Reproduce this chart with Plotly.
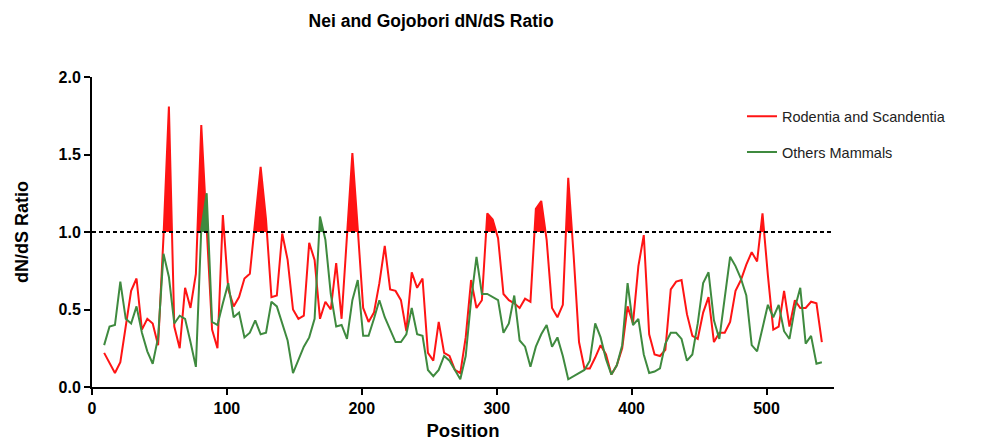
import plotly.graph_objects as go

# Sliding-window positions along the alignment
positions = list(range(9, 542, 4))

# dN/dS ratio, Rodentia and Scandentia
rodentia = [
    0.22, 0.15, 0.09, 0.16, 0.40, 0.62, 0.70, 0.37, 0.44, 0.41,
    0.27, 0.97, 1.81, 0.39, 0.25, 0.64, 0.51, 0.73, 1.69, 1.00,
    0.37, 0.25, 1.11, 0.63, 0.52, 0.58, 0.70, 0.73, 1.08, 1.42,
    1.08, 0.58, 0.59, 0.99, 0.82, 0.50, 0.44, 0.46, 0.93, 0.82,
    0.44, 0.55, 0.50, 0.80, 0.44, 1.00, 1.51, 1.02, 0.51, 0.42,
    0.48, 0.67, 0.91, 0.63, 0.62, 0.56, 0.36, 0.74, 0.64, 0.70,
    0.22, 0.17, 0.42, 0.22, 0.20, 0.11, 0.09, 0.32, 0.69, 0.51,
    0.56, 1.12, 1.08, 0.96, 0.60, 0.56, 0.54, 0.51, 0.57, 0.55,
    1.15, 1.20, 0.95, 0.51, 0.45, 0.53, 1.35, 0.85, 0.29, 0.12,
    0.12, 0.19, 0.27, 0.21, 0.08, 0.14, 0.25, 0.52, 0.41, 0.78,
    0.98, 0.34, 0.21, 0.20, 0.24, 0.63, 0.68, 0.69, 0.47, 0.33,
    0.31, 0.48, 0.58, 0.29, 0.35, 0.35, 0.42, 0.62, 0.69, 0.79,
    0.87, 0.81, 1.12, 0.72, 0.37, 0.39, 0.62, 0.39, 0.56, 0.51,
    0.51, 0.55, 0.54, 0.29,
]

# dN/dS ratio, other mammals
others = [
    0.27, 0.39, 0.40, 0.68, 0.44, 0.41, 0.52, 0.35, 0.23, 0.15,
    0.32, 0.86, 0.71, 0.41, 0.46, 0.44, 0.29, 0.13, 1.02, 1.25,
    0.42, 0.40, 0.54, 0.67, 0.45, 0.48, 0.32, 0.35, 0.43, 0.34,
    0.35, 0.55, 0.52, 0.41, 0.30, 0.09, 0.17, 0.26, 0.32, 0.44,
    1.10, 0.95, 0.60, 0.39, 0.40, 0.31, 0.56, 0.69, 0.33, 0.33,
    0.44, 0.56, 0.45, 0.37, 0.29, 0.29, 0.34, 0.51, 0.34, 0.33,
    0.11, 0.07, 0.11, 0.20, 0.17, 0.11, 0.05, 0.20, 0.56, 0.84,
    0.60, 0.60, 0.58, 0.56, 0.35, 0.41, 0.59, 0.30, 0.26, 0.13,
    0.26, 0.34, 0.40, 0.26, 0.32, 0.20, 0.05, 0.07, 0.09, 0.11,
    0.17, 0.41, 0.32, 0.18, 0.08, 0.14, 0.27, 0.67, 0.40, 0.44,
    0.21, 0.09, 0.10, 0.12, 0.28, 0.35, 0.35, 0.31, 0.17, 0.21,
    0.41, 0.67, 0.74, 0.43, 0.31, 0.57, 0.84, 0.78, 0.70, 0.59,
    0.27, 0.23, 0.38, 0.53, 0.45, 0.53, 0.36, 0.31, 0.51, 0.64,
    0.28, 0.33, 0.15, 0.16,
]

threshold = 1.0
series = [
    ("Rodentia and Scandentia", rodentia, "#FF1414"),
    ("Others Mammals", others, "#3F8A3F"),
]
FONT = "Liberation Sans, Arial, sans-serif"


def clip_above(xs, ys, level):
    """Return the curve clipped to max(y, level), with crossing points inserted."""
    fx, fy = [], []
    for i in range(len(xs)):
        if i > 0:
            y0, y1 = ys[i - 1], ys[i]
            if (y0 - level) * (y1 - level) < 0:
                t = (level - y0) / (y1 - y0)
                fx.append(xs[i - 1] + t * (xs[i] - xs[i - 1]))
                fy.append(level)
        fx.append(xs[i])
        fy.append(max(ys[i], level))
    return fx, fy


fig = go.Figure()
for name, vals, color in series:
    fx, fy = clip_above(positions, vals, threshold)
    fig.add_trace(go.Scatter(x=fx, y=[threshold] * len(fx), mode="lines",
                             line=dict(width=0), showlegend=False, hoverinfo="skip",
                             legendgroup=name))
    fig.add_trace(go.Scatter(x=fx, y=fy, mode="lines", fill="tonexty",
                             fillcolor=color, line=dict(width=0, color=color),
                             showlegend=False, hoverinfo="skip", legendgroup=name))
    fig.add_trace(go.Scatter(x=positions, y=vals, mode="lines", name=name,
                             legendgroup=name,
                             line=dict(color=color, width=2)))

fig.add_shape(type="line", xref="paper", yref="y", x0=0, x1=1,
              y0=threshold, y1=threshold, layer="above",
              line=dict(color="black", width=2, dash="4px,3px"))

fig.update_layout(
    width=994, height=441,
    margin=dict(l=92, r=160, t=77, b=54),
    paper_bgcolor="white", plot_bgcolor="white",
    font=dict(family=FONT, color="black"),
    title=dict(text="<b>Nei and Gojobori dN/dS Ratio</b>",
               font=dict(size=17.5, family=FONT, color="black"),
               x=0.457, xref="paper", xanchor="center",
               y=0.952, yref="container", yanchor="middle"),
    showlegend=True,
    legend=dict(x=0.876, y=0.925, xanchor="left", yanchor="top",
                traceorder="grouped", tracegroupgap=14,
                font=dict(size=14.5, family=FONT, color="#222222"),
                bgcolor="rgba(0,0,0,0)", itemwidth=30),
)

fig.update_xaxes(
    range=[0, 550], tickvals=[0, 100, 200, 300, 400, 500],
    showgrid=False, zeroline=False, automargin=False,
    showline=True, linecolor="black", linewidth=2,
    ticks="outside", ticklen=6, tickwidth=2, tickcolor="black",
    tickfont=dict(size=16, family=FONT, weight="bold"),
    title=dict(text="<b>Position</b>", font=dict(size=18.5, family=FONT), standoff=9),
)
fig.update_yaxes(
    range=[0, 2.0], tickvals=[0, 0.5, 1.0, 1.5, 2.0], tickformat=".1f",
    showgrid=False, zeroline=False, automargin=False,
    showline=True, linecolor="black", linewidth=2,
    ticks="outside", ticklen=6, tickwidth=2, tickcolor="black",
    tickfont=dict(size=16, family=FONT, weight="bold"),
    title=dict(text="<b>dN/dS Ratio</b>", font=dict(size=18, family=FONT), standoff=25),
)

fig.write_html("out.html")
